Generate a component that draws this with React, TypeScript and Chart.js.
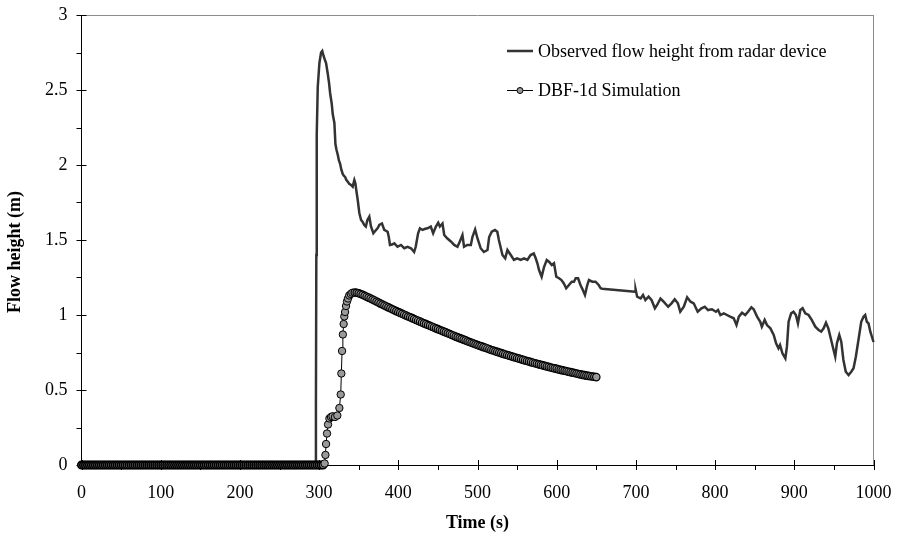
import React, { useEffect, useRef } from "react";
import { Chart, registerables } from "chart.js";

Chart.register(...registerables);

const xTickValues = [0, 100, 200, 300, 400, 500, 600, 700, 800, 900, 1000];
const yTickValues = [0, 0.5, 1, 1.5, 2, 2.5, 3];

const obsLabel = "Observed flow height from radar device";
const simLabel = "DBF-1d Simulation";
const xTitle = "Time (s)";
const yTitle = "Flow height (m)";

const obsTime = [
  0, 295, 296, 296.5, 297, 298.3, 300.4, 302.5, 304, 305.5, 306.7, 308.8, 310.9, 312.5, 313.9, 315.9, 317.2, 319.3,
  320.6, 322, 323.5, 325, 326.5, 328, 329.8, 331, 332.8, 334.5, 336, 338, 340.3, 342.4, 343.5, 344.5, 345.8, 347,
  348.7, 350.8, 353, 355, 357, 359, 361, 363.4, 365.5, 368.5, 371.9, 374, 376, 379.4, 382.3, 386.5, 388, 389.5, 392,
  395, 399, 403.3, 407.5, 411.7, 416, 420, 422, 425, 427.3, 430.6, 434, 437, 441, 444, 447.5, 450.4, 452.5, 455.8,
  458, 462, 466.4, 470.5, 474.7, 477.7, 481, 483, 487, 491.6, 493.6, 497, 500, 504, 508, 512.6, 514.7, 518, 522, 525,
  527, 531.5, 535, 537.8, 542, 546, 550, 554.6, 558.8, 563, 567, 571, 573.5, 575.6, 577.7, 581, 584, 587.4, 590.3,
  593.7, 596.6, 599.5, 603, 606, 609, 612, 615.5, 619, 621.8, 624, 627, 630, 633, 635.7, 638.6, 640.7, 645, 649, 653,
  655.5, 657.5, 699, 699.6, 701.6, 704, 706, 709, 712, 716, 719.7, 724, 726.8, 731, 735, 740.7, 745, 749, 753, 756,
  760.5, 764.7, 769, 773, 778, 782.8, 787, 791, 796, 801, 803.7, 806.7, 811, 815, 819, 823.5, 827, 830, 834, 838,
  841.6, 845.8, 848.7, 853, 857, 859, 862.6, 865.5, 869.8, 874, 877, 880, 882, 885, 888.7, 890.7, 892.8, 896, 899,
  902, 904.6, 907.6, 910.5, 913.9, 918, 922, 926.5, 930.7, 934, 937, 940, 943, 946, 949.6, 951.7, 953.8, 956.8,
  959.3, 962, 965, 968.5, 971.9, 974.8, 977.7, 981, 984.5, 987.4, 989.5, 991.6, 993.7, 996, 998, 1000,
];
const obsHeight = [
  0, 0, 0.4, 1.4, 2.2, 2.52, 2.68, 2.75, 2.76, 2.73, 2.71, 2.68, 2.61, 2.55, 2.48, 2.41, 2.34, 2.28,
  2.14, 2.1, 2.07, 2.03, 2.01, 1.97, 1.94, 1.93, 1.92, 1.9, 1.89, 1.875, 1.867, 1.855, 1.88, 1.9, 1.878, 1.83,
  1.77, 1.68, 1.633, 1.62, 1.6, 1.59, 1.633, 1.655, 1.59, 1.545, 1.567, 1.58, 1.6, 1.61, 1.567, 1.555, 1.52, 1.467, 1.47,
  1.478, 1.455, 1.467, 1.445, 1.455, 1.445, 1.42, 1.455, 1.545, 1.578, 1.567, 1.575, 1.578, 1.59, 1.545, 1.59, 1.615, 1.59, 1.61,
  1.533, 1.51, 1.49, 1.467, 1.455, 1.49, 1.533, 1.455, 1.467, 1.467, 1.52, 1.57, 1.51, 1.445, 1.42, 1.433, 1.52, 1.555, 1.567, 1.555,
  1.5, 1.4, 1.378, 1.433, 1.4, 1.367, 1.378, 1.367, 1.378, 1.367, 1.4, 1.41, 1.378, 1.345, 1.3, 1.255, 1.32, 1.367, 1.355,
  1.333, 1.345, 1.255, 1.245, 1.233, 1.21, 1.178, 1.2, 1.222, 1.222, 1.245, 1.245, 1.2, 1.167, 1.133, 1.2, 1.233, 1.222, 1.222, 1.2,
  1.178, 1.175, 1.155, 1.171, 1.122, 1.115, 1.11, 1.133, 1.1, 1.122, 1.1, 1.045, 1.067, 1.11, 1.089, 1.055, 1.078, 1.105, 1.078, 1.022,
  1.055, 1.118, 1.089, 1.078, 1.022, 1.045, 1.055, 1.033, 1.038, 1.022, 1.033, 1.0, 1.011, 1.0, 0.989, 0.978, 0.933, 0.989, 1.015, 1.0,
  1.022, 1.051, 1.038, 0.989, 0.955, 0.922, 0.967, 0.933, 0.911, 0.867, 0.811, 0.778, 0.8, 0.745, 0.711, 0.789, 0.955, 1.011, 1.022,
  1.0, 0.944, 1.033, 1.045, 1.011, 1.0, 0.967, 0.922, 0.9, 0.889, 0.911, 0.949, 0.911, 0.845, 0.767, 0.722, 0.811, 0.867,
  0.822, 0.7, 0.622, 0.6, 0.622, 0.645, 0.722, 0.833, 0.955, 0.989, 1.0, 0.955, 0.944, 0.889, 0.855, 0.82,
];

const simTime = [
  0, 2.5, 5, 7.5, 10, 12.5, 15, 17.5, 20, 22.5, 25, 27.5, 30, 32.5, 35, 37.5, 40, 42.5, 45, 47.5,
  50, 52.5, 55, 57.5, 60, 62.5, 65, 67.5, 70, 72.5, 75, 77.5, 80, 82.5, 85, 87.5, 90, 92.5, 95, 97.5,
  100, 102.5, 105, 107.5, 110, 112.5, 115, 117.5, 120, 122.5, 125, 127.5, 130, 132.5, 135, 137.5, 140, 142.5, 145, 147.5,
  150, 152.5, 155, 157.5, 160, 162.5, 165, 167.5, 170, 172.5, 175, 177.5, 180, 182.5, 185, 187.5, 190, 192.5, 195, 197.5,
  200, 202.5, 205, 207.5, 210, 212.5, 215, 217.5, 220, 222.5, 225, 227.5, 230, 232.5, 235, 237.5, 240, 242.5, 245, 247.5,
  250, 252.5, 255, 257.5, 260, 262.5, 265, 267.5, 270, 272.5, 275, 277.5, 280, 282.5, 285, 287.5, 290, 292.5, 295, 297.5,
  300, 302.5, 305,
  307, 308, 308.8, 310, 311.3, 313, 315, 317, 320, 323, 325.6, 327.3, 328.1, 329, 330, 331, 331.8, 332.8, 334, 335.2,
  336.5, 338, 340, 342,
  345, 347.5, 350, 352.5, 355, 357.5, 360, 362.5, 365, 367.5, 370, 372.5, 375, 377.5, 380, 382.5, 385, 387.5, 390, 392.5,
  395, 397.5, 400, 402.5, 405, 407.5, 410, 412.5, 415, 417.5, 420, 422.5, 425, 427.5, 430, 432.5, 435, 437.5, 440, 442.5,
  445, 447.5, 450, 452.5, 455, 457.5, 460, 462.5, 465, 467.5, 470, 472.5, 475, 477.5, 480, 482.5, 485, 487.5, 490, 492.5,
  495, 497.5, 500, 502.5, 505, 507.5, 510, 512.5, 515, 517.5, 520, 522.5, 525, 527.5, 530, 532.5, 535, 537.5, 540, 542.5,
  545, 547.5, 550, 552.5, 555, 557.5, 560, 562.5, 565, 567.5, 570, 572.5, 575, 577.5, 580, 582.5, 585, 587.5, 590, 592.5,
  595, 597.5, 600, 602.5, 605, 607.5, 610, 612.5, 615, 617.5, 620, 622.5, 625, 627.5, 630, 632.5, 635, 637.5, 640, 642.5,
  645, 647.5, 650,
];
const simHeight = [
  0, 0, 0, 0, 0, 0, 0, 0, 0, 0, 0, 0, 0, 0, 0, 0, 0, 0, 0, 0,
  0, 0, 0, 0, 0, 0, 0, 0, 0, 0, 0, 0, 0, 0, 0, 0, 0, 0, 0, 0,
  0, 0, 0, 0, 0, 0, 0, 0, 0, 0, 0, 0, 0, 0, 0, 0, 0, 0, 0, 0,
  0, 0, 0, 0, 0, 0, 0, 0, 0, 0, 0, 0, 0, 0, 0, 0, 0, 0, 0, 0,
  0, 0, 0, 0, 0, 0, 0, 0, 0, 0, 0, 0, 0, 0, 0, 0, 0, 0, 0, 0,
  0, 0, 0, 0, 0, 0, 0, 0, 0, 0, 0, 0, 0, 0, 0, 0, 0, 0, 0, 0,
  0, 0, 0,
  0.01, 0.067, 0.14, 0.21, 0.27, 0.31, 0.32, 0.325, 0.32, 0.33, 0.38, 0.47, 0.61, 0.76, 0.87, 0.94, 0.99, 1.02, 1.06, 1.09,
  1.11, 1.13, 1.14, 1.148,
  1.15, 1.148, 1.145, 1.14, 1.135, 1.128, 1.122, 1.116, 1.11, 1.103, 1.097, 1.09, 1.083, 1.076, 1.07, 1.063, 1.057, 1.051, 1.045, 1.038,
  1.032, 1.026, 1.02, 1.014, 1.008, 1.002, 0.996, 0.99, 0.985, 0.979, 0.973, 0.967, 0.962, 0.956, 0.95, 0.944, 0.939, 0.933, 0.928, 0.922,
  0.917, 0.911, 0.906, 0.9, 0.895, 0.889, 0.884, 0.878, 0.873, 0.867, 0.862, 0.856, 0.851, 0.846, 0.841, 0.836, 0.831, 0.825, 0.82, 0.815,
  0.81, 0.805, 0.8, 0.795, 0.791, 0.786, 0.782, 0.777, 0.772, 0.767, 0.763, 0.758, 0.754, 0.75, 0.746, 0.741, 0.737, 0.733, 0.729, 0.725,
  0.721, 0.717, 0.713, 0.709, 0.705, 0.701, 0.697, 0.693, 0.69, 0.686, 0.682, 0.678, 0.675, 0.671, 0.668, 0.664, 0.661, 0.657, 0.654, 0.65,
  0.647, 0.644, 0.641, 0.637, 0.634, 0.631, 0.628, 0.625, 0.622, 0.619, 0.616, 0.613, 0.61, 0.607, 0.604, 0.601, 0.599, 0.596, 0.594, 0.592,
  0.59, 0.588, 0.586,
];

const FONT = "'Liberation Serif', 'Times New Roman', serif";
const FS = 18;

const decorPlugin = {
  id: "decor",
  beforeDatasetsDraw(chart: any) {
    const { ctx, chartArea: a, scales } = chart;
    const x = scales.x;
    const y = scales.y;
    ctx.save();
    ctx.strokeStyle = "#8c8c8c";
    ctx.lineWidth = 1;
    ctx.beginPath();
    ctx.moveTo(a.left, Math.round(a.top) + 0.5);
    ctx.lineTo(a.right, Math.round(a.top) + 0.5);
    ctx.moveTo(Math.round(a.right) - 0.5, a.top);
    ctx.lineTo(Math.round(a.right) - 0.5, a.bottom);
    ctx.stroke();
    ctx.strokeStyle = "#000";
    ctx.beginPath();
    for (let t = 0; t <= 1000; t += 50) {
      const px = Math.round(x.getPixelForValue(t)) + 0.5;
      const major = t % 100 === 0;
      ctx.moveTo(px, a.bottom + 5);
      ctx.lineTo(px, major ? a.bottom - 5 : a.bottom);
    }
    for (let i = 0; i <= 12; i++) {
      const v = i * 0.25;
      const py = Math.round(y.getPixelForValue(v)) + 0.5;
      const major = i % 2 === 0;
      ctx.moveTo(a.left - 5, py);
      ctx.lineTo(major ? a.left + 5 : a.left, py);
    }
    ctx.stroke();
    ctx.restore();
  },
  afterDraw(chart: any) {
    const { ctx, chartArea: a } = chart;
    ctx.save();
    ctx.fillStyle = "#000";
    ctx.font = `bold ${FS}px ${FONT}`;
    ctx.textAlign = "center";
    ctx.textBaseline = "middle";
    ctx.fillText(xTitle, (a.left + a.right) / 2, 523);
    ctx.save();
    ctx.translate(15, 252);
    ctx.rotate(-Math.PI / 2);
    ctx.fillText(yTitle, 0, 0);
    ctx.restore();
    ctx.font = `${FS}px ${FONT}`;
    ctx.textAlign = "left";
    ctx.strokeStyle = "#333333";
    ctx.lineWidth = 2.5;
    ctx.beginPath();
    ctx.moveTo(507, 51);
    ctx.lineTo(533, 51);
    ctx.stroke();
    ctx.fillText(obsLabel, 538, 52);
    ctx.strokeStyle = "#000";
    ctx.lineWidth = 1;
    ctx.beginPath();
    ctx.moveTo(507, 90.5);
    ctx.lineTo(533, 90.5);
    ctx.stroke();
    ctx.beginPath();
    ctx.arc(520, 90.5, 3, 0, Math.PI * 2);
    ctx.fillStyle = "#999999";
    ctx.fill();
    ctx.stroke();
    ctx.fillStyle = "#000";
    ctx.fillText(simLabel, 538, 91);
    ctx.restore();
  },
};

export default function App() {
  const ref = useRef<HTMLCanvasElement | null>(null);
  useEffect(() => {
    if (!ref.current) return;
    const chart = new Chart(ref.current, {
      type: "line",
      data: {
        datasets: [
          {
            label: obsLabel,
            data: obsTime.map((t, i) => ({ x: t, y: obsHeight[i] })),
            borderColor: "#333333",
            borderWidth: 2.5,
            pointRadius: 0,
            tension: 0,
            order: 2,
            clip: false,
          },
          {
            label: simLabel,
            data: simTime.map((t, i) => ({ x: t, y: simHeight[i] })),
            borderColor: "#000000",
            borderWidth: 1,
            pointRadius: 3.7,
            pointBackgroundColor: "#999999",
            pointBorderColor: "#000000",
            pointBorderWidth: (c: any) => (c.raw && c.raw.y === 0 ? 1.7 : c.raw && c.raw.x >= 345 ? 1.2 : 1),
            tension: 0,
            order: 1,
            clip: false,
          },
        ],
      },
      options: {
        responsive: false,
        animation: false,
        events: [],
        layout: { padding: { top: 15, right: 28.5, left: 0, bottom: 0 } },
        plugins: { legend: { display: false }, tooltip: { enabled: false }, title: { display: false } },
        scales: {
          x: {
            type: "linear",
            min: 0,
            max: 1000,
            afterBuildTicks: (s: any) => {
              s.ticks = xTickValues.map((v) => ({ value: v }));
            },
            afterFit: (s: any) => {
              s.height = 71;
              s.paddingLeft = 0;
              s.paddingRight = 0;
              s.paddingTop = 0;
              s.paddingBottom = 0;
            },
            ticks: {
              color: "#000",
              font: { family: FONT, size: FS },
              padding: 17,
              maxRotation: 0,
              autoSkip: false,
              callback: (v: any) => String(v),
            },
            grid: { display: false, drawTicks: false },
            border: { display: true, color: "#000", width: 1 },
          },
          y: {
            type: "linear",
            min: 0,
            max: 3,
            afterBuildTicks: (s: any) => {
              s.ticks = yTickValues.map((v) => ({ value: v }));
            },
            afterFit: (s: any) => {
              s.width = 81.5;
              s.paddingLeft = 0;
              s.paddingRight = 0;
              s.paddingTop = 0;
              s.paddingBottom = 0;
            },
            ticks: {
              color: "#000",
              font: { family: FONT, size: FS },
              padding: 14,
              autoSkip: false,
              callback: (v: any) => String(v),
            },
            grid: { display: false, drawTicks: false },
            border: { display: true, color: "#000", width: 1 },
          },
        },
      },
      plugins: [decorPlugin],
    });
    return () => chart.destroy();
  }, []);
  return (
    <div style={{ position: "absolute", left: 0, top: 0, width: 902, height: 536, background: "#fff" }}>
      <canvas ref={ref} width={902} height={536} style={{ display: "block", width: 902, height: 536 }} />
    </div>
  );
}
